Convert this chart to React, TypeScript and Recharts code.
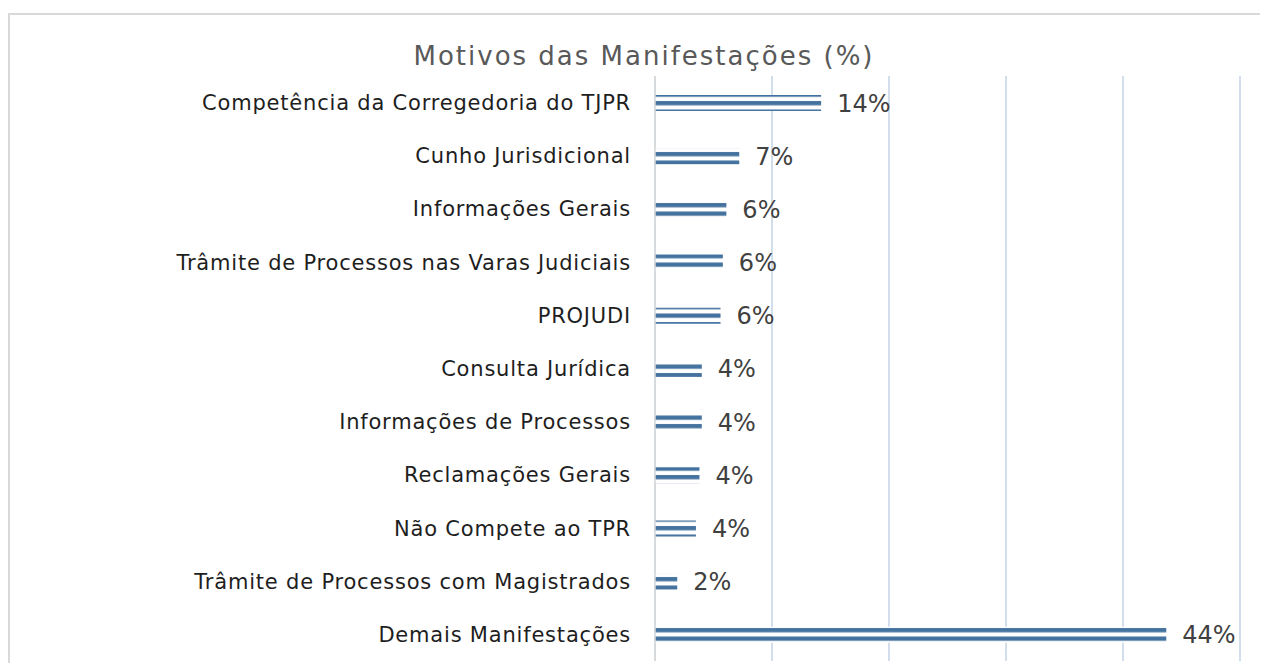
import React from 'react';
import { BarChart, Bar, XAxis, YAxis, CartesianGrid, LabelList } from 'recharts';

const categories = [
  'Competência da Corregedoria do TJPR',
  'Cunho Jurisdicional',
  'Informações Gerais',
  'Trâmite de Processos nas Varas Judiciais',
  'PROJUDI',
  'Consulta Jurídica',
  'Informações de Processos',
  'Reclamações Gerais',
  'Não Compete ao TPR',
  'Trâmite de Processos com Magistrados',
  'Demais Manifestações',
];
const values = [14.2, 7.2, 6.1, 5.8, 5.6, 4.0, 4.0, 3.8, 3.5, 1.9, 43.7];
const valueLabels = ['14%', '7%', '6%', '6%', '6%', '4%', '4%', '4%', '4%', '2%', '44%'];
const xTicks = [0, 10, 20, 30, 40, 50];
const title = 'Motivos das Manifestações (%)';

const data = categories.map((name, i) => ({ name, value: values[i], label: valueLabels[i] }));

if (typeof document !== 'undefined') {
  document.body.style.overflow = 'hidden';
}

const FONT = '"DejaVu Sans", sans-serif';

export default function App() {
  return (
    <div
      style={{
        position: 'relative',
        marginTop: 5,
        width: 1280,
        height: 650,
        borderTop: '2px solid #d9d9d9',
        borderLeft: '2px solid #d9d9d9',
        boxSizing: 'border-box',
        overflow: 'hidden',
        background: '#fff',
      }}
    >
      <div
        style={{
          position: 'absolute',
          top: 28,
          left: 0,
          width: 1268,
          textAlign: 'center',
          fontFamily: FONT,
          fontSize: 26,
          lineHeight: '26px',
          letterSpacing: 2,
          color: '#595959',
          whiteSpace: 'nowrap',
        }}
      >
        {title}
      </div>
      <BarChart
        width={1258}
        height={648}
        data={data}
        layout="vertical"
        margin={{ top: 61, right: 28, bottom: 2, left: 0 }}
        barSize={16}
      >
        <defs>
          <pattern id="hstripes" patternUnits="userSpaceOnUse" x={0} y={0} width={8} height={8.5}>
            <rect x={0} y={0} width={8} height={8.5} fill="#ffffff" />
            <rect x={0} y={1} width={8} height={4.3} fill="#44729f" />
          </pattern>
        </defs>
        <CartesianGrid horizontal={false} stroke="#c3d3e4" strokeWidth={1.5} />
        <XAxis type="number" domain={[0, 50]} ticks={xTicks} hide />
        <YAxis
          type="category"
          dataKey="name"
          width={645}
          axisLine={{ stroke: '#d9d9d9', strokeWidth: 1.5 }}
          tickLine={false}
          tickSize={0}
          tickMargin={24}
          interval={0}
          tick={{ fill: '#1e1e1e', fontSize: 21, fontFamily: FONT, letterSpacing: 0.8 }}
        />
        <Bar dataKey="value" fill="url(#hstripes)" isAnimationActive={false}>
          <LabelList
            dataKey="label"
            position="right"
            offset={16}
            fill="#404040"
            style={{ fontSize: 24, fontFamily: FONT }}
          />
        </Bar>
      </BarChart>
    </div>
  );
}
